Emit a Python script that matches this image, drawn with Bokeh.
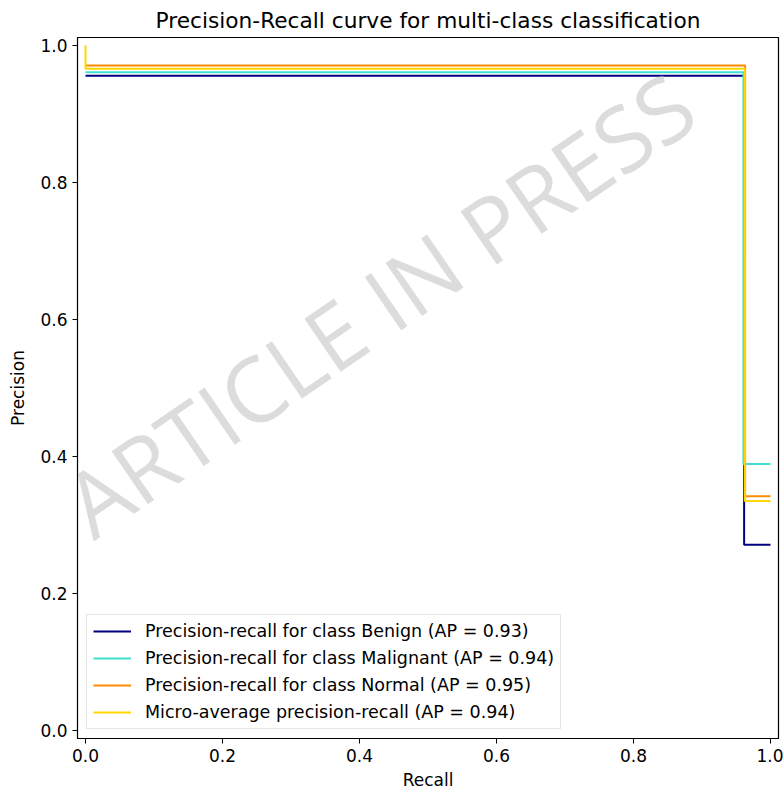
from bokeh.plotting import figure
from bokeh.models import Range1d, Label, FixedTicker, Legend, LegendItem, PrintfTickFormatter
from bokeh.embed import file_html
from bokeh.resources import INLINE
import math

# ---- data ----
recall_benign = [0.0, 0.9615, 1.0]
precision_benign = [0.956, 0.271, 0.271]

recall_malignant = [0.0, 0.9605, 1.0]
precision_malignant = [0.961, 0.389, 0.389]

recall_normal = [0.0, 0.963, 1.0]
precision_normal = [0.971, 0.342, 0.342]

recall_micro = [0.0, 0.0, 0.9625, 1.0]
precision_micro = [1.0, 0.966, 0.335, 0.335]

labels = [
    "Precision-recall for class Benign (AP = 0.93)",
    "Precision-recall for class Malignant (AP = 0.94)",
    "Precision-recall for class Normal (AP = 0.95)",
    "Micro-average precision-recall (AP = 0.94)",
]
colors = ["navy", "turquoise", "darkorange", "gold"]
ticks = [0.0, 0.2, 0.4, 0.6, 0.8, 1.0]

FONT = "DejaVu Sans"

p = figure(width=783, height=792, output_backend="svg", toolbar_location=None,
           x_range=Range1d(-0.0117, 1.0117), y_range=Range1d(-0.0117, 1.0117),
           min_border_left=77, min_border_right=5, min_border_top=37, min_border_bottom=53,
           title="Precision-Recall curve for multi-class classification")

p.title.align = "center"
p.title.text_font = FONT
p.title.text_font_size = "21.7px"
p.title.text_font_style = "normal"
p.title.text_color = "#000000"
p.title.standoff = 10

p.xgrid.visible = False
p.ygrid.visible = False
p.outline_line_color = "#000000"
p.outline_line_width = 1.2

for ax in (p.xaxis[0], p.yaxis[0]):
    ax.ticker = FixedTicker(ticks=ticks)
    ax.formatter = PrintfTickFormatter(format="%.1f")
    ax.major_tick_in = 0
    ax.major_tick_out = 5
    ax.minor_tick_in = 0
    ax.minor_tick_out = 0
    ax.major_label_text_font = FONT
    ax.major_label_text_font_size = "17px"
    ax.major_label_text_color = "#000000"
    ax.axis_label_text_font = FONT
    ax.axis_label_text_font_size = "17px"
    ax.axis_label_text_font_style = "normal"
    ax.axis_label_text_color = "#000000"
    ax.major_label_standoff = 5
    ax.axis_line_color = "#000000"
    ax.major_tick_line_color = "#000000"

p.xaxis.axis_label = "Recall"
p.yaxis.axis_label = "Precision"
p.xaxis.axis_label_standoff = 5
p.yaxis.axis_label_standoff = 9

series = [
    (recall_benign, precision_benign),
    (recall_malignant, precision_malignant),
    (recall_normal, precision_normal),
    (recall_micro, precision_micro),
]
items = []
for (rx, py), c, lab in zip(series, colors, labels):
    r = p.step(rx, py, mode="after", line_color=c, line_width=2)
    items.append(LegendItem(label=lab, renderers=[r]))

legend = Legend(items=items, location="bottom_left")
legend.margin = 9
legend.padding = 6
legend.spacing = 7
legend.label_height = 20
legend.glyph_height = 20
legend.glyph_width = 38
legend.label_standoff = 14
legend.label_text_font = FONT
legend.label_text_font_size = "17.5px"
legend.label_text_color = "#000000"
legend.border_line_color = "#cccccc"
legend.border_line_width = 1
legend.background_fill_alpha = 0.8
p.add_layout(legend, "center")

# watermark, centred in canvas pixels (y from top)
wm = Label(x=378, y=303, x_units="canvas", y_units="canvas",
           text="ARTICLE IN PRESS", angle=math.radians(34.5),
           text_align="center", text_baseline="middle",
           text_font="Open Sans", text_font_size="90px",
           text_color="#c0c0c0", text_alpha=0.55, level="overlay")
p.add_layout(wm)

open("out.html", "w").write(file_html(p, INLINE))
